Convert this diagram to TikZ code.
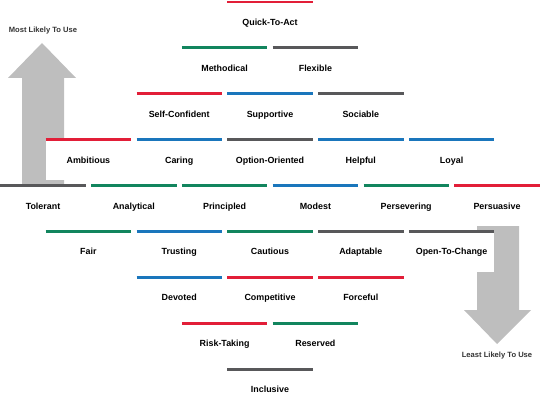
\documentclass[tikz,border=0pt]{standalone}
\usepackage{fontspec}
\setmainfont{Liberation Sans}
\usepackage{xcolor}
\definecolor{tred}{RGB}{226,30,56}
\definecolor{tgreen}{RGB}{18,133,94}
\definecolor{tblue}{RGB}{26,118,188}
\definecolor{tgray}{RGB}{88,88,90}
\definecolor{arrowgray}{RGB}{190,190,190}
\usetikzlibrary{positioning}

\begin{document}
\begin{tikzpicture}[x=1pt,y=-1pt,trait/.style={minimum width=85pt,minimum height=40pt,inner sep=0pt,text height=6.4pt,text depth=0pt,fill=white,font=\bfseries\fontsize{8.9}{10}\selectfont},bar/.style={line width=2.8pt},likely/.style={font=\bfseries\fontsize{7.6}{9}\selectfont,text=black!80}]

    \useasboundingbox (0,0) rectangle (540,409);

    \fill[arrowgray] (22,185) -- (22,78) -- (8,78) -- (42,43) -- (76,78) -- (64,78) -- (64,185) -- cycle;
    \fill[arrowgray] (477,225) -- (477,310) -- (464,310) -- (497,344) -- (531,310) -- (519,310) -- (519,225) -- cycle;

    \node[likely] (most) at (43,31) {Most Likely To Use};
    \node[likely] (least) at (497,356) {Least Likely To Use};

    \foreach \r/\k/\col/\nm/\txt in {
        0/5/tred/quick/Quick-To-Act,
        1/4/tgreen/methodical/Methodical, 1/6/tgray/flexible/Flexible,
        2/3/tred/selfconfident/Self-Confident, 2/5/tblue/supportive/Supportive, 2/7/tgray/sociable/Sociable,
        3/1/tred/ambitious/Ambitious, 3/3/tblue/caring/Caring, 3/5/tgray/option/Option-Oriented, 3/7/tblue/helpful/Helpful, 3/9/tblue/loyal/Loyal,
        4/0/tgray/tolerant/Tolerant, 4/2/tgreen/analytical/Analytical, 4/4/tgreen/principled/Principled, 4/6/tblue/modest/Modest, 4/8/tgreen/persevering/Persevering, 4/10/tred/persuasive/Persuasive,
        5/1/tgreen/fair/Fair, 5/3/tblue/trusting/Trusting, 5/5/tgreen/cautious/Cautious, 5/7/tgray/adaptable/Adaptable, 5/9/tgray/open/Open-To-Change,
        6/3/tblue/devoted/Devoted, 6/5/tred/competitive/Competitive, 6/7/tred/forceful/Forceful,
        7/4/tred/risk/Risk-Taking, 7/6/tgreen/reserved/Reserved,
        8/5/tgray/inclusive/Inclusive}{
        \node[trait,anchor=north] (\nm) at ({43+45.4*\k},{2+45.9*\r}) {\txt};
        \draw[bar,\col] (\nm.north west) -- (\nm.north east);
    }

\end{tikzpicture}
\end{document}
